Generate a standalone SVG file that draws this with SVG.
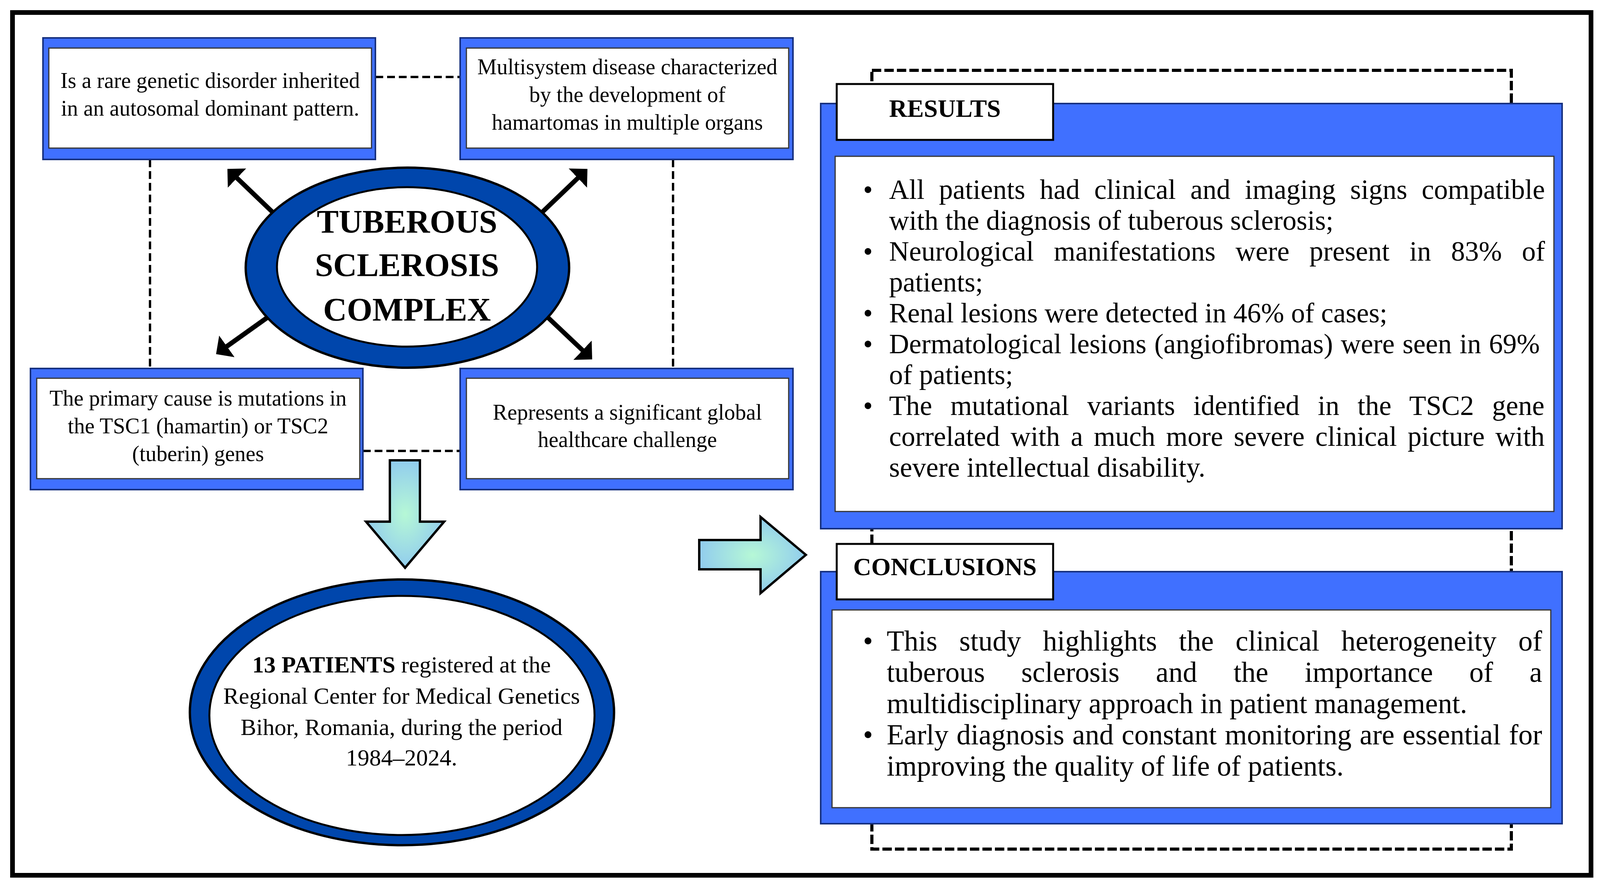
<svg xmlns="http://www.w3.org/2000/svg" width="4106" height="2270" viewBox="0 0 4106 2270">
<defs>
<style>
.frame{fill:#4070FF;stroke:#16307F;stroke-width:4}
.inner{fill:#fff;stroke:#333;stroke-width:3}
.label{fill:#fff;stroke:#000;stroke-width:5}
.t{font-family:"Liberation Serif","Times New Roman",serif;fill:#000}
.box{font-size:56px;text-anchor:middle}
.res{font-size:71px}
.con{font-size:73px}
.head{font-size:64px;font-weight:bold;text-anchor:middle}
.bul{text-anchor:middle}
.dash{fill:none;stroke:#000;stroke-width:6;stroke-dasharray:20 10}
.bracket{fill:none;stroke:#000;stroke-width:8;stroke-dasharray:24 8}
.ring{fill:#0046AC;stroke:#000;stroke-width:6}
.hole{fill:#fff;stroke:#000;stroke-width:5}
.arr{stroke:#000;stroke-width:12;fill:none;marker-end:url(#head)}
.block{fill:url(#g1);stroke:#000;stroke-width:6;stroke-linejoin:miter}
</style>
<marker id="head" markerUnits="userSpaceOnUse" viewBox="0 0 34 68" markerWidth="34" markerHeight="68" refX="1" refY="34" orient="auto"><path d="M0,0 L34,34 L0,68 z" fill="#000"/></marker>
<radialGradient id="g1" cx="0.5" cy="0.5" r="0.6"><stop offset="0" stop-color="#B6F8D6"/><stop offset="1" stop-color="#8AC4F2"/></radialGradient>
</defs>
<rect x="0" y="0" width="4106" height="2270" fill="#fff"/>
<rect id="border" x="32" y="32" width="4041" height="2208" fill="none" stroke="#000" stroke-width="12"/>

<g id="connectors">
<rect class="bracket" x="2232" y="180" width="1637" height="1993"/>
<line class="dash" x1="961" y1="197" x2="1178" y2="197"/>
<line class="dash" x1="384" y1="408" x2="384" y2="943"/>
<line class="dash" x1="1723" y1="408" x2="1723" y2="943"/>
<line class="dash" x1="929" y1="1154" x2="1178" y2="1154"/>
<line class="arr" x1="700" y1="545" x2="606" y2="455"/>
<line class="arr" x1="1386" y1="545" x2="1480" y2="455"/>
<line class="arr" x1="688" y1="810" x2="580" y2="887"/>
<line class="arr" x1="1400" y1="810" x2="1492" y2="897"/>
<polygon class="block" points="998,1178 1075,1178 1075,1335 1137,1335 1037,1453 937,1335 998,1335"/>
<polygon class="block" points="1790,1382 1947,1382 1947,1323 2063,1420 1947,1518 1947,1457 1790,1457"/>
</g>

<g id="node-inherited">
<rect class="frame" x="110" y="97" width="851" height="311"/>
<rect class="inner" x="125" y="123" width="826" height="256"/>
<text class="t box"><tspan x="538" y="225">Is a rare genetic disorder inherited</tspan><tspan x="538" y="296">in an autosomal dominant pattern.</tspan></text>
</g>

<g id="node-multisystem">
<rect class="frame" x="1178" y="97" width="852" height="311"/>
<rect class="inner" x="1194" y="123" width="825" height="256"/>
<text class="t box"><tspan x="1606" y="190">Multisystem disease characterized</tspan><tspan x="1606" y="261">by the development of</tspan><tspan x="1606" y="332">hamartomas in multiple organs</tspan></text>
</g>

<g id="node-cause">
<rect class="frame" x="78" y="943" width="851" height="310"/>
<rect class="inner" x="94" y="968" width="827" height="257"/>
<text class="t box"><tspan x="507" y="1038">The primary cause is mutations in</tspan><tspan x="507" y="1109">the TSC1 (hamartin) or TSC2</tspan><tspan x="507" y="1180">(tuberin) genes</tspan></text>
</g>

<g id="node-challenge">
<rect class="frame" x="1178" y="943" width="852" height="310"/>
<rect class="inner" x="1194" y="968" width="825" height="257"/>
<text class="t box"><tspan x="1606" y="1074">Represents a significant global</tspan><tspan x="1606" y="1144">healthcare challenge</tspan></text>
</g>

<g id="node-tsc">
<ellipse class="ring" cx="1043" cy="685" rx="414" ry="256"/>
<ellipse class="hole" cx="1042" cy="683" rx="333" ry="204"/>
<text class="t" font-size="84" font-weight="bold" text-anchor="middle"><tspan x="1042" y="596">TUBEROUS</tspan><tspan x="1042" y="707">SCLEROSIS</tspan><tspan x="1042" y="821">COMPLEX</tspan></text>
</g>

<g id="node-patients">
<ellipse class="ring" cx="1029" cy="1823" rx="543" ry="340"/>
<ellipse class="hole" cx="1029" cy="1831" rx="493" ry="306"/>
<text class="t" font-size="60" text-anchor="middle"><tspan x="1028" y="1721"><tspan font-weight="bold">13 PATIENTS</tspan> registered at the</tspan><tspan x="1028" y="1801">Regional Center for Medical Genetics</tspan><tspan x="1028" y="1881">Bihor, Romania, during the period</tspan><tspan x="1028" y="1959">1984–2024.</tspan></text>
</g>

<g id="node-results">
<rect class="frame" x="2101" y="265" width="1898" height="1088"/>
<rect class="inner" x="2138" y="400" width="1840" height="909"/>
<rect class="label" x="2142" y="215" width="554" height="143"/>
<text class="t head" x="2419" y="299">RESULTS</text>
<g class="t res">
<text class="bul" x="2222" y="509">•</text>
<text x="2276" y="509" word-spacing="19.3">All patients had clinical and imaging signs compatible</text>
<text x="2276" y="588">with the diagnosis of tuberous sclerosis;</text>
<text class="bul" x="2222" y="667">•</text>
<text x="2276" y="667" word-spacing="33.4">Neurological manifestations were present in 83% of</text>
<text x="2276" y="746">patients;</text>
<text class="bul" x="2222" y="825">•</text>
<text x="2276" y="825">Renal lesions were detected in 46% of cases;</text>
<text class="bul" x="2222" y="904">•</text>
<text x="2276" y="904" word-spacing="2.3">Dermatological lesions (angiofibromas) were seen in 69%</text>
<text x="2276" y="983">of patients;</text>
<text class="bul" x="2222" y="1062">•</text>
<text x="2276" y="1062" word-spacing="28.9">The mutational variants identified in the TSC2 gene</text>
<text x="2276" y="1141" word-spacing="9.7">correlated with a much more severe clinical picture with</text>
<text x="2276" y="1220">severe intellectual disability.</text>
</g>
</g>

<g id="node-conclusions">
<rect class="frame" x="2101" y="1463" width="1898" height="645"/>
<rect class="inner" x="2130" y="1561" width="1840" height="506"/>
<rect class="label" x="2142" y="1392" width="554" height="142"/>
<text class="t head" x="2419" y="1472">CONCLUSIONS</text>
<g class="t con">
<text class="bul" x="2222" y="1665">•</text>
<text x="2270" y="1665" word-spacing="37.7">This study highlights the clinical heterogeneity of</text>
<text x="2270" y="1745" word-spacing="74.9">tuberous sclerosis and the importance of a</text>
<text x="2270" y="1825">multidisciplinary approach in patient management.</text>
<text class="bul" x="2222" y="1905">•</text>
<text x="2270" y="1905" word-spacing="2.5">Early diagnosis and constant monitoring are essential for</text>
<text x="2270" y="1985">improving the quality of life of patients.</text>
</g>
</g>
</svg>
